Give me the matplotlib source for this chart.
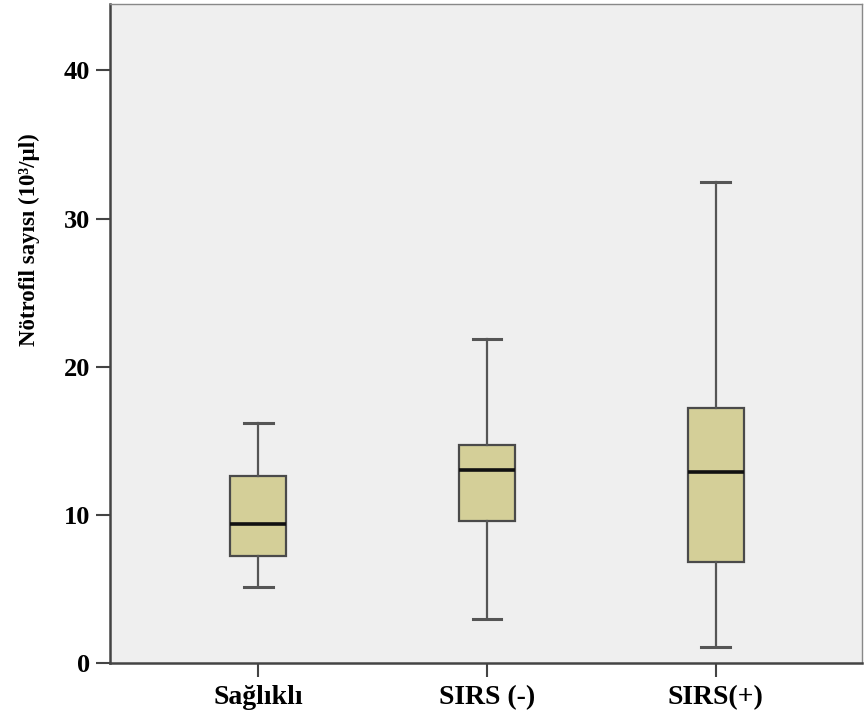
import matplotlib
matplotlib.use("Agg")
import matplotlib.pyplot as plt

# ---- data (10^3/ul)
groups = ["Sağlıklı", "SIRS (-)", "SIRS(+)"]
whislo = [5.1, 3.0, 1.1]
q1 = [7.2, 9.6, 6.8]
med = [9.4, 13.0, 12.9]
q3 = [12.6, 14.7, 17.2]
whishi = [16.2, 21.9, 32.5]
yticks = [0, 10, 20, 30, 40]

stats = [dict(label=g, whislo=lo, q1=a, med=m, q3=b, whishi=hi, fliers=[])
         for g, lo, a, m, b, hi in zip(groups, whislo, q1, med, q3, whishi)]

plt.rcParams["font.family"] = ["Liberation Serif", "DejaVu Serif"]

fig = plt.figure(figsize=(8.65, 7.22), dpi=100)
ax = fig.add_axes([0.127, 0.0817, 0.8695, 0.913])
ax.set_facecolor("#efefef")

ax.bxp(stats, positions=range(len(groups)), widths=0.245, patch_artist=True,
       boxprops=dict(facecolor="#d4cf98", edgecolor="#4a4a4a", linewidth=1.6),
       medianprops=dict(color="#111111", linewidth=2.6),
       whiskerprops=dict(color="#555555", linewidth=1.6),
       capprops=dict(color="#555555", linewidth=2.2),
       capwidths=0.125)

ax.set_xlim(-0.65, 2.64)
ax.set_ylim(0, 44.5)
ax.set_yticks(yticks)
ax.set_xticks(range(len(groups)))
ax.set_xticklabels(groups, fontsize=20, fontweight="bold")
for t in ax.get_yticklabels():
    t.set_fontsize(19)
    t.set_fontweight("bold")

ax.tick_params(axis="both", length=10, width=1.5, color="#444444", pad=4)
ax.tick_params(axis="x", pad=6)
for s in ["left", "bottom"]:
    ax.spines[s].set_linewidth(1.8)
    ax.spines[s].set_color("#444444")
for s in ["top", "right"]:
    ax.spines[s].set_linewidth(1.0)
    ax.spines[s].set_color("#888888")

ax.set_ylabel("Nötrofil sayısı (10³/µl)", fontsize=16.5, fontweight="bold")
ax.yaxis.set_label_coords(-0.093, 0.642)

fig.savefig("out.png", dpi=100)
